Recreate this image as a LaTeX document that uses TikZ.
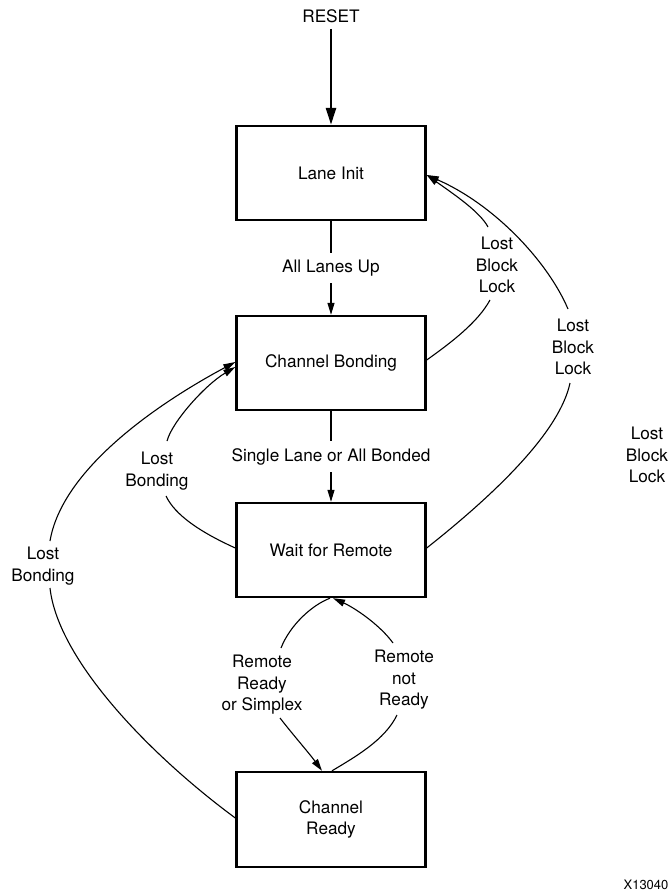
\documentclass[tikz,border=0pt]{standalone}
\usepackage{fontspec}
\setmainfont{TeX Gyre Heros}
\usetikzlibrary{arrows.meta}
\begin{document}
\begin{tikzpicture}[x=1pt,y=-1pt,
  dfont/.style={font=\fontsize{17.2pt}{21.5pt}\selectfont},
  box/.style={draw, line width=2.4pt, minimum width=189pt, minimum height=94pt, inner sep=0pt, align=center, dfont},
  txt/.style={align=center, inner sep=0pt, dfont},
  lblw/.style={txt, fill=white, inner xsep=4pt, inner ysep=7pt},
  line/.style={line width=1.1pt},
  conn/.style={line width=1.1pt, -{Triangle[length=12pt,width=7pt]}},
  bigconn/.style={line width=2.6pt, -{Triangle[length=17pt,width=10pt]}}]
\useasboundingbox (0,0) rectangle (670,893);

% states
\node[txt] (reset) at (331,16) {RESET};
\node[box] (li) at (331,173) {Lane Init};
\node[box] (cb) at (331,363) {Channel Bonding};
\node[box] (wr) at (331,550) {Wait for Remote};
\node[box, minimum height=95pt] (cr) at (331,819.5) {Channel\\Ready};

% labels
\node[txt] (lA) at (497,265) {Lost\\Block\\Lock};
\node[txt] (lB) at (573,347) {Lost\\Block\\Lock};
\node[txt] (lC) at (157,471) {Lost\\Bonding};
\node[txt] (lD) at (43,566) {Lost\\Bonding};
\node[txt] (lE) at (262,685) {Remote\\Ready\\or Simplex};
\node[txt] (lF) at (404,680) {Remote\\not\\Ready};
\node[txt] (lG) at (647,455) {Lost\\Block\\Lock};
\node[inner sep=0pt, font=\fontsize{13pt}{15pt}\selectfont] (id) at (646,885) {X13040};

% straight transitions
\draw[bigconn] ([yshift=-6pt]reset.south) -- (li.north);
\draw[conn] (li.south) -- node[lblw] {All Lanes Up} (cb.north);
\draw[conn] (cb.south) -- node[lblw] {Single Lane or All Bonded} (wr.north);

% Lost Block Lock (inner)
\draw[line] ([yshift=3pt]cb.east) .. controls (452,342) and (478,322) .. ([shift={(-7,35)}]lA.center);
\draw[conn] ([shift={(-9,-38)}]lA.center) .. controls (480,212) and (455,195) .. ([yshift=-2pt]li.east);

% Lost Block Lock (outer)
\draw[line] ([yshift=2pt]wr.east) .. controls (500,490) and (560,430) .. ([shift={(-3,36)}]lB.center);
\draw[conn] ([shift={(-5,-38)}]lB.center) .. controls (548,262) and (495,205) .. ([yshift=-2pt]li.east);

% Lost Bonding (inner)
\draw[line] ([yshift=2pt]wr.west) .. controls (200,532) and (175,515) .. ([shift={(9,25)}]lC.center);
\draw[conn] ([shift={(10,-30)}]lC.center) .. controls (172,422) and (205,385) .. ([yshift=-4pt]cb.west);

% Lost Bonding (outer)
\draw[line] ([yshift=1.5pt]cr.west) .. controls (150,755) and (58,660) .. ([shift={(7,22)}]lD.center);
\draw[conn] ([shift={(7,-25)}]lD.center) .. controls (62,470) and (155,405) .. ([yshift=1pt]cb.west);

% Remote Ready or Simplex
\draw[line] ([shift={(19,-37)}]lE.center) .. controls (290,625) and (312,605) .. ([xshift=-1pt]wr.south);
\draw[conn] ([shift={(18,33)}]lE.center) .. controls (294,736) and (309,753) .. ([xshift=-9pt]cr.north);

% Remote not Ready
\draw[line] ([xshift=1pt]cr.north) .. controls (355,757) and (385,740) .. ([shift={(-7,35)}]lF.center);
\draw[conn] ([shift={(-11,-37)}]lF.center) .. controls (380,625) and (355,608) .. ([xshift=2pt]wr.south);
\end{tikzpicture}
\end{document}
